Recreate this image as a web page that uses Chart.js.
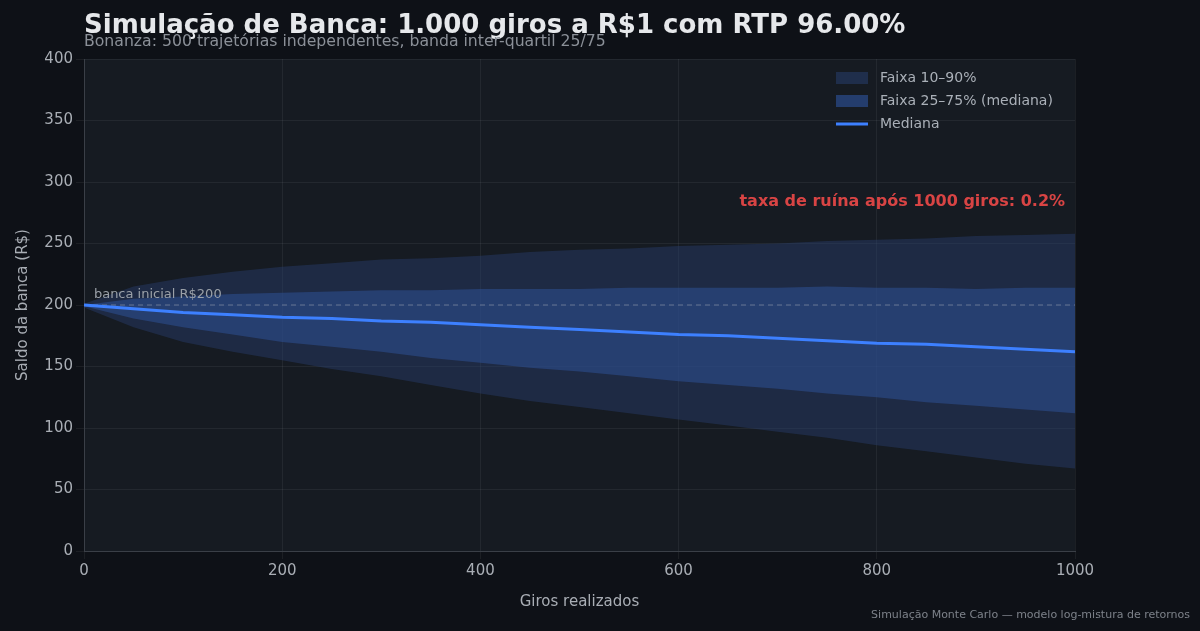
<!DOCTYPE html>
<html>
<head>
<meta charset="utf-8">
<script src="https://cdn.jsdelivr.net/npm/chart.js@4/dist/chart.umd.min.js"></script>
<style>
  html, body { margin: 0; padding: 0; background: #0e1117; }
  #wrap { width: 1200px; height: 631px; }
</style>
</head>
<body>
<div id="wrap"><canvas id="bankChart"></canvas></div>
<script>
// giros (every 50 spins) and percentile values
const giros = [0, 50, 100, 150, 200, 250, 300, 350, 400, 450, 500, 550, 600, 650, 700, 750, 800, 850, 900, 950, 1000];
const p90 = [201, 215, 222, 227, 231, 234, 237, 238, 240, 243, 245, 246, 248, 249, 250, 252, 253, 254, 256, 257, 258];
const p75 = [200, 205, 207, 209, 210, 211, 212, 212, 213, 213, 213, 214, 214, 214, 214, 215, 214, 214, 213, 214, 214];
const median = [200, 197, 194, 192, 190, 189, 187, 186, 184, 182, 180, 178, 176, 175, 173, 171, 169, 168, 166, 164, 162];
const p25 = [199, 189, 182, 176, 170, 166, 162, 157, 153, 149, 146, 142, 138, 135, 132, 128, 125, 121, 118, 115, 112];
const p10 = [198, 182, 170, 162, 155, 148, 142, 135, 128, 122, 117, 112, 107, 102, 97, 92, 86, 81, 76, 71, 67];
const xTicks = [0, 200, 400, 600, 800, 1000];
const bancaInicial = 200;

const pts = arr => arr.map((v, i) => ({ x: giros[i], y: v }));

const decor = {
  id: 'decor',
  beforeDraw(chart) {
    const { ctx, chartArea } = chart;
    ctx.save();
    ctx.fillStyle = '#161b22';
    ctx.fillRect(chartArea.left, chartArea.top, chartArea.right - chartArea.left, chartArea.bottom - chartArea.top);
    ctx.restore();
  },
  beforeDatasetDraw(chart, args) {
    if (args.index !== 4) return;
    const { ctx, chartArea, scales } = chart;
    const x = scales.x, y = scales.y;
    ctx.save();
    ctx.strokeStyle = 'rgba(200,200,200,0.4)';
    ctx.setLineDash([5, 4]);
    ctx.lineWidth = 1;
    ctx.beginPath();
    ctx.moveTo(chartArea.left, y.getPixelForValue(bancaInicial));
    ctx.lineTo(chartArea.right, y.getPixelForValue(bancaInicial));
    ctx.stroke();
    ctx.setLineDash([]);
    ctx.font = '13px "DejaVu Sans"';
    ctx.fillStyle = '#9aa0a8';
    ctx.textBaseline = 'bottom';
    ctx.fillText('banca inicial R$200', x.getPixelForValue(10), y.getPixelForValue(bancaInicial) - 4);
    ctx.restore();
  },
  afterDatasetsDraw(chart) {
    const { ctx, scales } = chart;
    const x = scales.x, y = scales.y;
    ctx.save();
    // ruin rate
    ctx.font = 'bold 16px "DejaVu Sans"';
    ctx.fillStyle = '#d84444';
    ctx.textAlign = 'right';
    ctx.textBaseline = 'middle';
    ctx.fillText('taxa de ruína após 1000 giros: 0.2%', x.getPixelForValue(990), y.getPixelForValue(284));
    // legend
    ctx.textAlign = 'left';
    ctx.font = '14px "DejaVu Sans"';
    const lx = 836, items = [
      ['Faixa 10–90%', 'rgba(40,62,110,0.55)', 'box'],
      ['Faixa 25–75% (mediana)', 'rgba(45,80,150,0.65)', 'box'],
      ['Mediana', '#3d80ff', 'line']
    ];
    items.forEach((it, i) => {
      const cy = 78 + i * 23;
      if (it[2] === 'box') { ctx.fillStyle = it[1]; ctx.fillRect(lx, cy - 6, 32, 12); }
      else { ctx.strokeStyle = it[1]; ctx.lineWidth = 3; ctx.beginPath(); ctx.moveTo(lx, cy); ctx.lineTo(lx + 32, cy); ctx.stroke(); }
      ctx.fillStyle = '#aab0b8';
      ctx.fillText(it[0], lx + 44, cy);
    });
    // titles
    ctx.fillStyle = '#e6e8eb';
    ctx.font = 'bold 26px "DejaVu Sans"';
    ctx.textBaseline = 'alphabetic';
    ctx.fillText('Simulação de Banca: 1.000 giros a R$1 com RTP 96.00%', 84, 33);
    ctx.fillStyle = '#8b9098';
    ctx.font = '15.7px "DejaVu Sans"';
    ctx.fillText('Bonanza: 500 trajetórias independentes, banda inter-quartil 25/75', 84, 46);
    ctx.font = '11px "DejaVu Sans"';
    ctx.textAlign = 'right';
    ctx.fillStyle = '#7d828a';
    ctx.fillText('Simulação Monte Carlo — modelo log-mistura de retornos', 1190, 618);
    ctx.restore();
  }
};

new Chart(document.getElementById('bankChart'), {
  type: 'line',
  data: {
    datasets: [
      { label: 'p90', data: pts(p90), fill: '+1', backgroundColor: 'rgba(40,62,110,0.45)', borderWidth: 0, pointRadius: 0, order: 3 },
      { label: 'p10', data: pts(p10), fill: false, borderWidth: 0, pointRadius: 0, order: 3 },
      { label: 'p75', data: pts(p75), fill: '+1', backgroundColor: 'rgba(45,80,150,0.55)', borderWidth: 0, pointRadius: 0, order: 2 },
      { label: 'p25', data: pts(p25), fill: false, borderWidth: 0, pointRadius: 0, order: 2 },
      { label: 'Mediana', data: pts(median), borderColor: '#3d80ff', borderWidth: 3, pointRadius: 0, fill: false, order: 0 }
    ]
  },
  options: {
    responsive: true,
    maintainAspectRatio: false,
    animation: false,
    layout: { padding: { top: 59, right: 125, left: 10, bottom: 20 } },
    plugins: { legend: { display: false }, tooltip: { enabled: false } },
    scales: {
      x: {
        type: 'linear', min: 0, max: 1000,
        afterBuildTicks: s => { s.ticks = xTicks.map(v => ({ value: v })); },
        afterFit: s => { s.height = 60; },
        grid: { color: 'rgba(255,255,255,0.06)' },
        border: { color: '#3a3f47' },
        ticks: { color: '#a9aeb5', font: { size: 15, family: 'DejaVu Sans' }, callback: v => String(v) },
        title: { display: true, text: 'Giros realizados', color: '#a9aeb5', font: { size: 15, family: 'DejaVu Sans' }, padding: { top: 8, bottom: 0 } }
      },
      y: {
        min: 0, max: 400,
        afterFit: s => { s.width = 74; },
        grid: { color: 'rgba(255,255,255,0.06)' },
        border: { color: '#3a3f47' },
        ticks: { stepSize: 50, color: '#a9aeb5', font: { size: 15, family: 'DejaVu Sans' } },
        title: { display: true, text: 'Saldo da banca (R$)', color: '#a9aeb5', font: { size: 15, family: 'DejaVu Sans' } }
      }
    }
  },
  plugins: [decor]
});
</script>
</body>
</html>
